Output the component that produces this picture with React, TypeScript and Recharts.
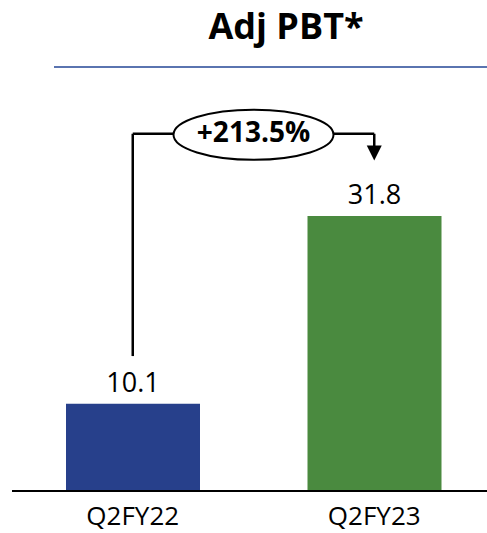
import { BarChart, Bar, XAxis, YAxis, Cell, LabelList, ReferenceLine } from 'recharts';

const periods = ['Q2FY22', 'Q2FY23'];
const pbtValues = [10.1, 31.8];
const barColors = ['#27408B', '#4A8A3F'];
const growthLabel = '+213.5%';

// bracket levels, in data units
const bracketTop = 41.3;
const bracketFoot = 15.6;
const arrowTip = 38.2;

const chartData = periods.map((period, i) => ({ period, value: pbtValues[i] }));

const FONT = '"Open Sans", sans-serif';

function GrowthBubble(props: any) {
  const vb = props.viewBox || {};
  const cx = vb.x + vb.width / 2;
  const cy = vb.y + (vb.height || 0) / 2;
  return (
    <g>
      <ellipse cx={cx} cy={cy + 1} rx={80} ry={25} fill="#fff" stroke="#000" strokeWidth={2} />
      <text
        x={cx}
        y={cy + 8}
        textAnchor="middle"
        fontFamily={FONT}
        fontWeight={700}
        fontSize={28}
        fill="#000"
      >
        {growthLabel}
      </text>
    </g>
  );
}

function ArrowDown(props: any) {
  const { x1, y1, x2, y2 } = props;
  const bottom = Math.max(y1, y2);
  const top = Math.min(y1, y2);
  return (
    <g>
      <line x1={x1} y1={top} x2={x2} y2={bottom - 14} stroke="#000" strokeWidth={2.5} />
      <polygon points={`${x2 - 7.5},${bottom - 15} ${x2 + 7.5},${bottom - 15} ${x2},${bottom}`} fill="#000" />
    </g>
  );
}

export default function App() {
  return (
    <div style={{ position: 'absolute', left: 0, top: 0, width: 487, height: 533, overflow: 'hidden', background: '#fff' }}>
      <div
        style={{
          position: 'absolute',
          left: 0,
          width: 572,
          top: 4,
          textAlign: 'center',
          fontFamily: FONT,
          fontWeight: 700,
          fontSize: 36,
          lineHeight: '44px',
          color: '#000',
        }}
      >
        Adj PBT*
      </div>
      <div style={{ position: 'absolute', left: 54, top: 66, width: 433, height: 2, background: '#5A74B0' }} />
      <div style={{ position: 'absolute', left: 0, top: 0 }}>
        <BarChart width={495} height={533} data={chartData} margin={{ top: 145, right: 0, bottom: 0, left: 12 }}>
          <XAxis
            dataKey="period"
            axisLine={{ stroke: '#000', strokeWidth: 2 }}
            tickLine={false}
            tickSize={0}
            tickMargin={16}
            height={42}
            interval={0}
            tick={{ fill: '#000', fontSize: 26, fontFamily: FONT }}
          />
          <YAxis hide domain={[0, 40]} allowDataOverflow={false} />
          <Bar dataKey="value" barSize={134} isAnimationActive={false}>
            {chartData.map((d, i) => (
              <Cell key={d.period} fill={barColors[i]} />
            ))}
            <LabelList dataKey="value" position="top" offset={12} fill="#000" fontSize={27} fontFamily={FONT} />
          </Bar>
          <ReferenceLine
            segment={[
              { x: periods[0], y: bracketFoot },
              { x: periods[0], y: bracketTop },
            ]}
            stroke="#000"
            strokeWidth={2.5}
            ifOverflow="visible"
          />
          <ReferenceLine
            segment={[
              { x: periods[0], y: bracketTop },
              { x: periods[1], y: bracketTop },
            ]}
            stroke="#000"
            strokeWidth={2.5}
            ifOverflow="visible"
            label={<GrowthBubble />}
          />
          <ReferenceLine
            segment={[
              { x: periods[1], y: bracketTop },
              { x: periods[1], y: arrowTip },
            ]}
            ifOverflow="visible"
            shape={<ArrowDown />}
          />
        </BarChart>
      </div>
    </div>
  );
}
